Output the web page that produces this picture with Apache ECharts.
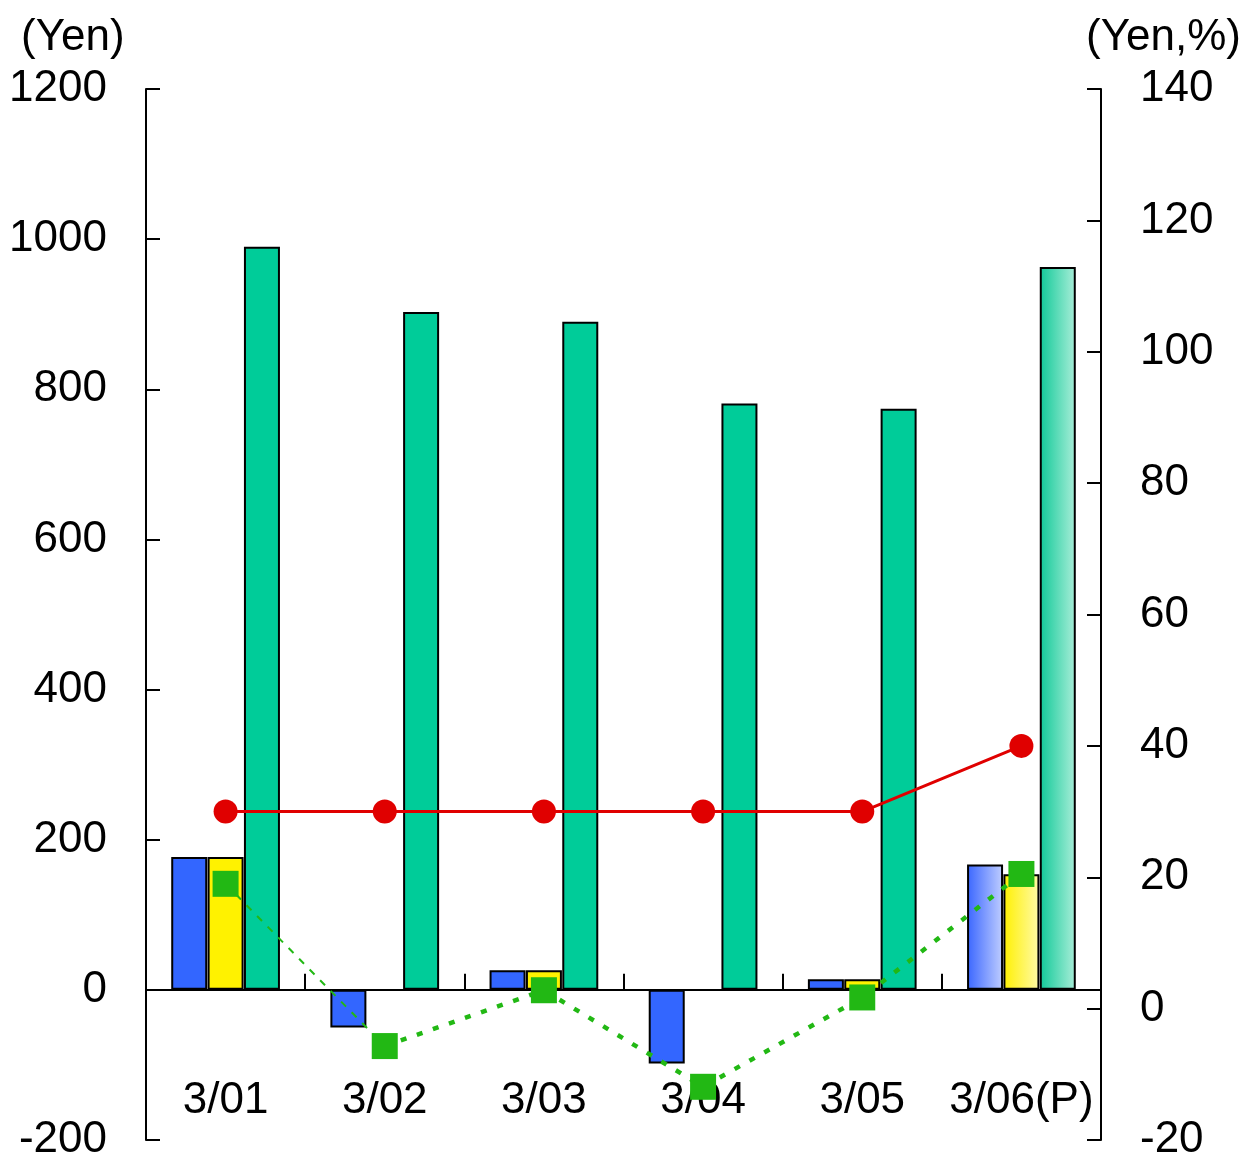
<!DOCTYPE html>
<html>
<head>
<meta charset="utf-8">
<script src="https://cdn.jsdelivr.net/npm/echarts@6/dist/echarts.min.js"></script>
<style>
html,body{margin:0;padding:0;background:#fff;}
#chart{width:1244px;height:1158px;}
</style>
</head>
<body>
<div id="chart"></div>
<script>
const categories = ['3/01', '3/02', '3/03', '3/04', '3/05', '3/06(P)'];
const blueValues = [177, -50, 26, -98, 14, 167];
const yellowValues = [177, null, 26, null, 14, 154];
const tealValues = [990, 903, 890, 781, 774, 963];
const redLine = [30, 30, 30, 30, 30, 40];
const greenLine = [19, -5.7, 2.8, -11.9, 1.7, 20.5];
const leftTicks = { min: -200, max: 1200, interval: 200 };
const rightTicks = { min: -20, max: 140, interval: 20 };
const forecastIndex = 5;

const FONT = '"Liberation Sans", Arial, sans-serif';
const FS = 44;

function grad(c1, c2) {
  return new echarts.graphic.LinearGradient(0, 0, 1, 0, [
    { offset: 0, color: c1 }, { offset: 1, color: c2 }
  ]);
}
function barData(vals, g) {
  return vals.map((v, i) => i === forecastIndex && v != null
    ? { value: v, itemStyle: { color: g } }
    : v);
}

const chart = echarts.init(document.getElementById('chart'), null, { renderer: 'canvas' });
const barBorder = { borderColor: '#000', borderWidth: 2 };

chart.setOption({
  animation: false,
  backgroundColor: '#fff',
  grid: { left: 146, right: 143, top: 89, bottom: 18, containLabel: false, outerBoundsMode: 'none' },
  graphic: [
    { type: 'text', left: 21, top: 16, style: { text: '(Yen)', font: FS + 'px ' + FONT, fill: '#000' } },
    { type: 'text', right: 3, top: 16, style: { text: '(Yen,%)', font: FS + 'px ' + FONT, fill: '#000' } }
  ],
  xAxis: [
    {
      type: 'category',
      data: categories,
      axisLine: { onZero: true, onZeroAxisIndex: 0, lineStyle: { color: '#000', width: 2 } },
      axisTick: { show: true, inside: true, length: 16, interval: 0, lineStyle: { color: '#000', width: 2 } },
      axisLabel: { show: false },
      splitLine: { show: false }
    },
    {
      type: 'category',
      data: categories,
      position: 'bottom',
      axisLine: { show: false, onZero: false },
      axisTick: { show: false },
      axisLabel: { show: true, color: '#000', fontFamily: FONT, fontSize: FS, margin: -61, interval: 0, hideOverlap: false },
      splitLine: { show: false }
    }
  ],
  yAxis: [
    {
      type: 'value', position: 'left',
      min: leftTicks.min, max: leftTicks.max, interval: leftTicks.interval,
      axisLine: { show: true, lineStyle: { color: '#000', width: 2 } },
      axisTick: { show: true, inside: true, length: 14, lineStyle: { color: '#000', width: 2 } },
      axisLabel: { color: '#000', fontFamily: FONT, fontSize: FS, margin: 39, formatter: v => String(v) },
      splitLine: { show: false }
    },
    {
      type: 'value', position: 'right',
      min: rightTicks.min, max: rightTicks.max, interval: rightTicks.interval,
      axisLine: { show: true, lineStyle: { color: '#000', width: 2 } },
      axisTick: { show: true, inside: true, length: 14, lineStyle: { color: '#000', width: 2 } },
      axisLabel: { color: '#000', fontFamily: FONT, fontSize: FS, margin: 39, formatter: v => String(v) },
      splitLine: { show: false }
    }
  ],
  series: [
    {
      type: 'bar', yAxisIndex: 0, barWidth: 36, barGap: '0%',
      itemStyle: Object.assign({ color: '#3366ff' }, barBorder),
      data: barData(blueValues, grad('#3a66ff', '#c0ceff')), z: 2
    },
    {
      type: 'bar', yAxisIndex: 0, barWidth: 36, barGap: '0%',
      itemStyle: Object.assign({ color: '#fff200' }, barBorder),
      data: barData(yellowValues, grad('#fff000', '#fffaa8')), z: 2
    },
    {
      type: 'bar', yAxisIndex: 0, barWidth: 36, barGap: '1%',
      itemStyle: Object.assign({ color: '#00cc99' }, barBorder),
      data: barData(tealValues, grad('#10c998', '#aaeed9')), z: 2
    },
    {
      type: 'line', yAxisIndex: 1, data: redLine, z: 5,
      symbol: 'circle', symbolSize: 24,
      itemStyle: { color: '#e00000' },
      lineStyle: { color: '#e00000', width: 3 }
    },
    {
      type: 'line', yAxisIndex: 1, z: 4,
      data: greenLine.map((v, i) => i <= 1 ? v : null),
      symbol: 'none',
      lineStyle: { color: '#22b814', width: 2, type: [7, 8] }
    },
    {
      type: 'line', yAxisIndex: 1, z: 4,
      data: greenLine.map((v, i) => i >= 1 ? v : null),
      symbol: 'none',
      lineStyle: { color: '#22b814', width: 4.5, type: [6, 11] }
    },
    {
      type: 'line', yAxisIndex: 1, z: 6,
      data: greenLine,
      symbol: 'rect', symbolSize: 26,
      itemStyle: { color: '#22b814' },
      lineStyle: { width: 0, opacity: 0 }
    }
  ]
});
</script>
</body>
</html>
